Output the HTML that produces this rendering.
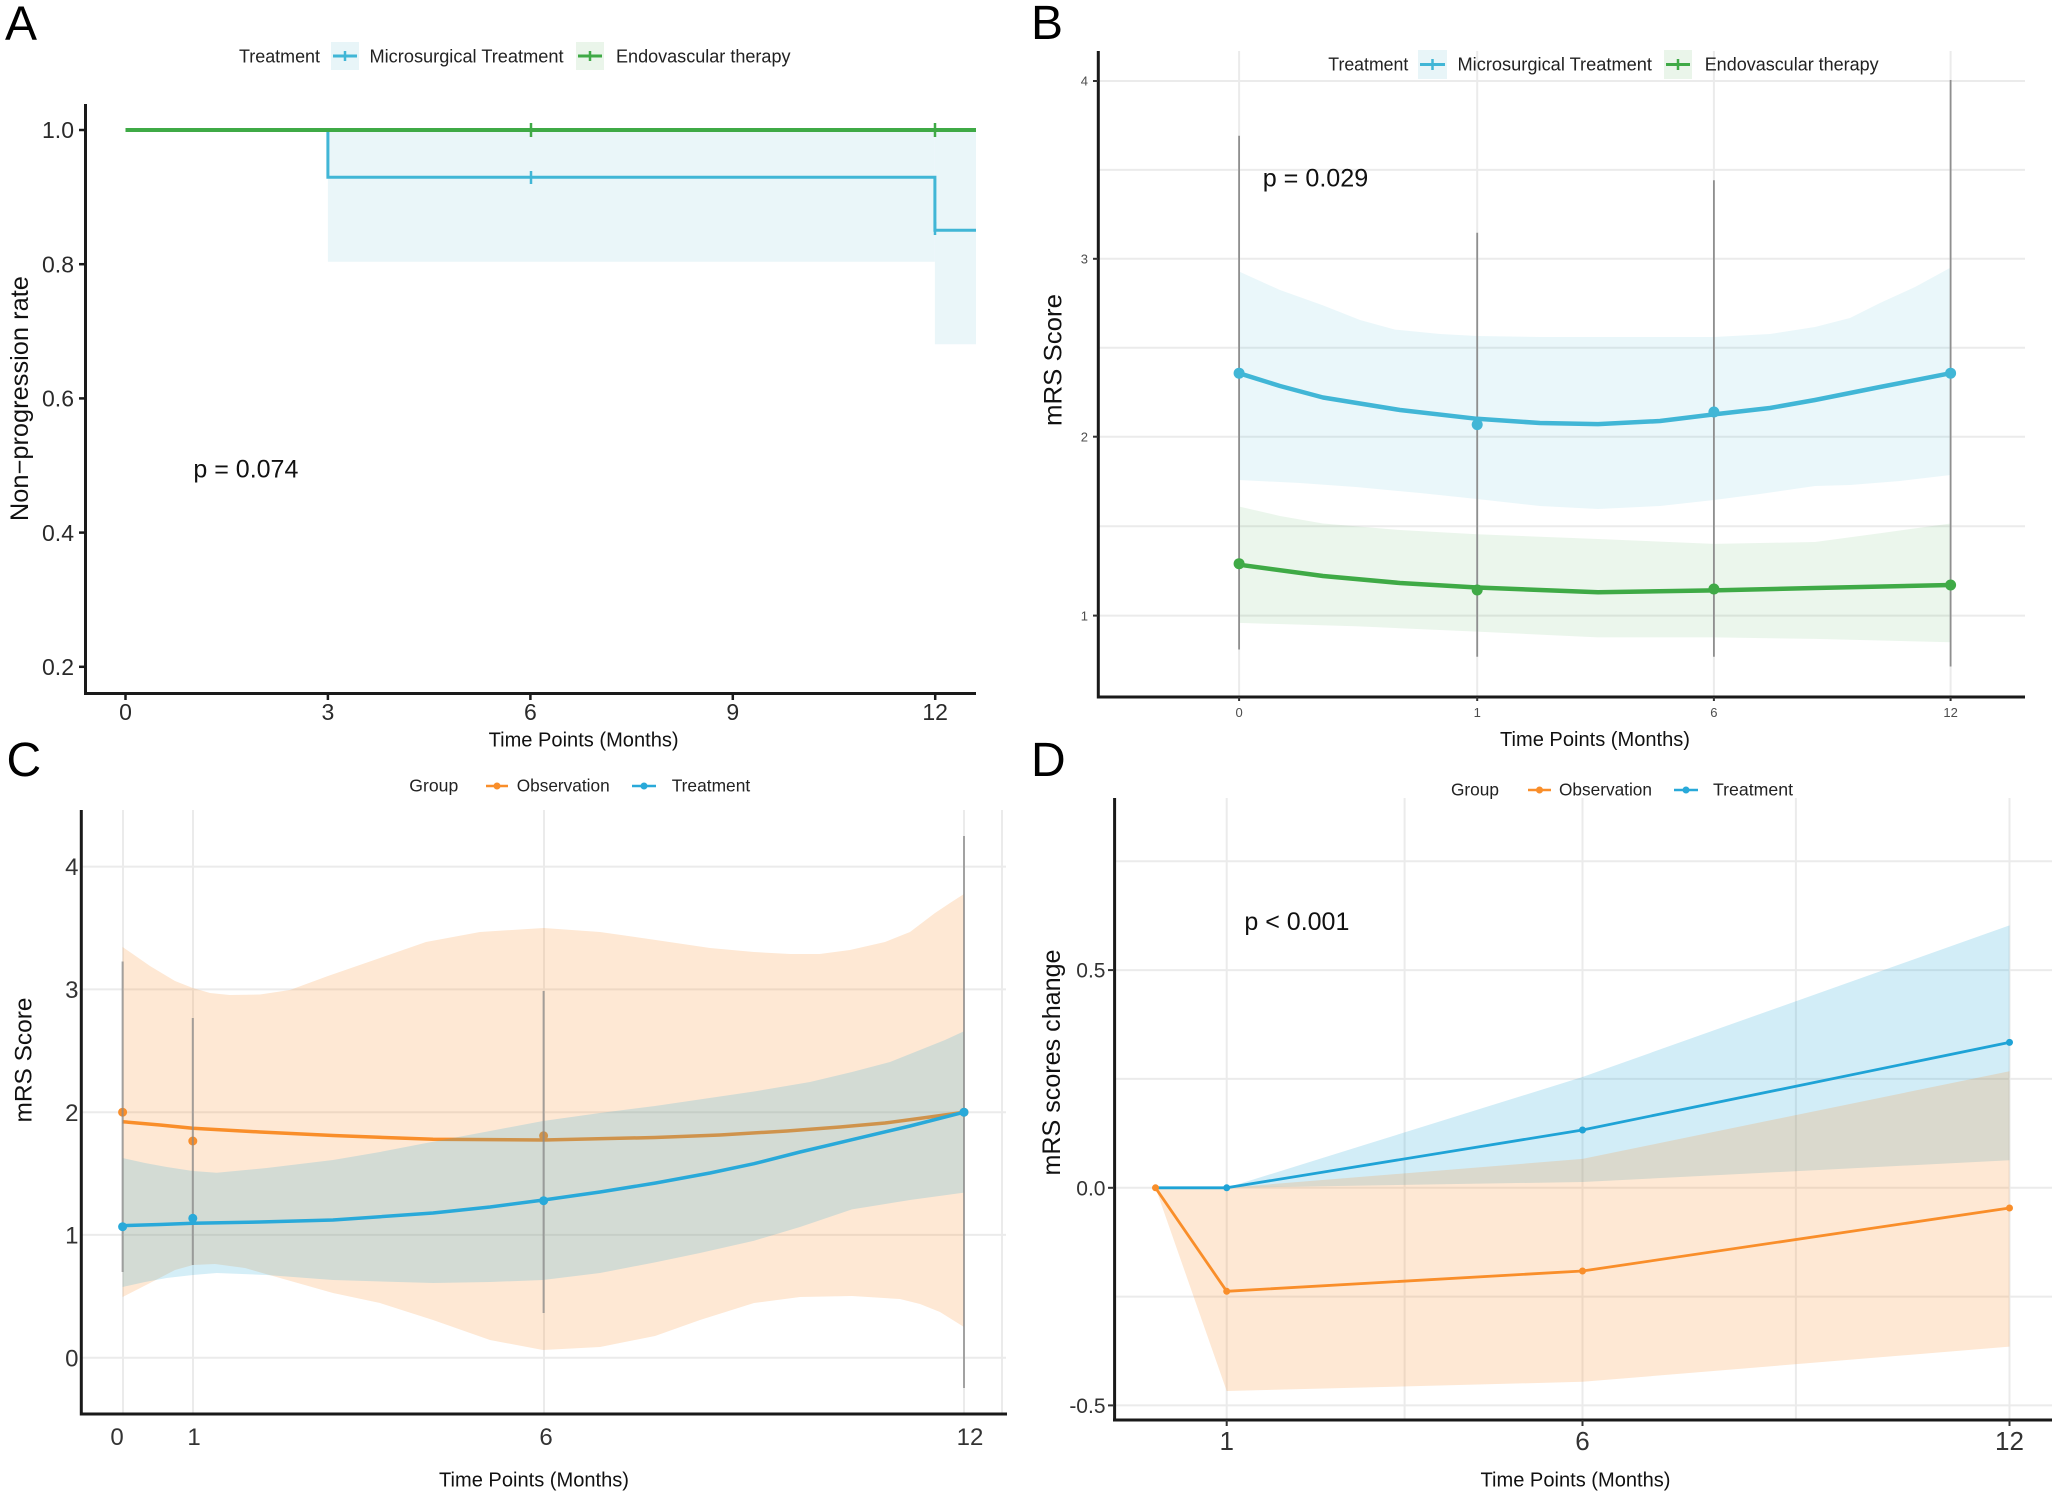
<!DOCTYPE html>
<html><head><meta charset="utf-8"><style>
html,body{margin:0;padding:0;background:#fff;}
svg{display:block;}
text{font-family:"Liberation Sans",Arial,sans-serif;}
</style></head><body>
<svg width="2056" height="1495" viewBox="0 0 2056 1495" xmlns="http://www.w3.org/2000/svg">
<rect width="2056" height="1495" fill="#fff"/>

<!-- ================= PANEL A ================= -->
<text x="5" y="39.7" font-size="48" fill="#000">A</text>
<!-- legend -->
<text x="239" y="62.7" font-size="18" fill="#222" textLength="81" lengthAdjust="spacingAndGlyphs">Treatment</text>
<rect x="331" y="42" width="28" height="28" fill="#e8f5f8"/>
<line x1="333" y1="56" x2="357" y2="56" stroke="#41b6d6" stroke-width="3"/>
<line x1="345" y1="51" x2="345" y2="61" stroke="#41b6d6" stroke-width="2.5"/>
<text x="369.5" y="62.7" font-size="18" fill="#222" textLength="194" lengthAdjust="spacingAndGlyphs">Microsurgical Treatment</text>
<rect x="576" y="42" width="28" height="28" fill="#eaf5ea"/>
<line x1="578" y1="56" x2="602" y2="56" stroke="#3faa46" stroke-width="3"/>
<line x1="590" y1="51" x2="590" y2="61" stroke="#3faa46" stroke-width="2.5"/>
<text x="616" y="62.7" font-size="18" fill="#222" textLength="174.5" lengthAdjust="spacingAndGlyphs">Endovascular therapy</text>
<!-- ribbon -->
<polygon points="327.9,130 934.9,130 934.9,261.7 327.9,261.7" fill="#eaf6f9"/>
<polygon points="934.9,130 976,130 976,344.2 934.9,344.2" fill="#eaf6f9"/>
<!-- blue step -->
<polyline points="125.5,130 327.9,130 327.9,177.3 934.9,177.3 934.9,230.2 976,230.2" fill="none" stroke="#41b6d6" stroke-width="3"/>
<line x1="531" y1="171" x2="531" y2="184" stroke="#41b6d6" stroke-width="2.5"/>
<line x1="935" y1="222" x2="935" y2="235" stroke="#41b6d6" stroke-width="2.5"/>
<!-- green -->
<line x1="125.5" y1="130" x2="976" y2="130" stroke="#3faa46" stroke-width="4"/>
<line x1="531" y1="123" x2="531" y2="137" stroke="#3faa46" stroke-width="2.5"/>
<line x1="935" y1="123" x2="935" y2="137" stroke="#3faa46" stroke-width="2.5"/>
<!-- axes -->
<line x1="85.5" y1="104" x2="85.5" y2="694.5" stroke="#1a1a1a" stroke-width="3"/>
<line x1="84" y1="693.5" x2="976" y2="693.5" stroke="#1a1a1a" stroke-width="3"/>
<g stroke="#1a1a1a" stroke-width="2.5">
<line x1="79" y1="130" x2="85" y2="130"/><line x1="79" y1="264.2" x2="85" y2="264.2"/><line x1="79" y1="398.4" x2="85" y2="398.4"/><line x1="79" y1="532.6" x2="85" y2="532.6"/><line x1="79" y1="666.8" x2="85" y2="666.8"/>
<line x1="125.5" y1="694" x2="125.5" y2="700"/><line x1="327.9" y1="694" x2="327.9" y2="700"/><line x1="530.4" y1="694" x2="530.4" y2="700"/><line x1="732.8" y1="694" x2="732.8" y2="700"/><line x1="935.2" y1="694" x2="935.2" y2="700"/>
</g>
<g font-size="23" fill="#2a2a2a" text-anchor="end">
<text x="74" y="138.2">1.0</text><text x="74" y="272.4">0.8</text><text x="74" y="406.6">0.6</text><text x="74" y="540.8">0.4</text><text x="74" y="675">0.2</text>
</g>
<g font-size="23" fill="#2a2a2a" text-anchor="middle">
<text x="125.5" y="720">0</text><text x="327.9" y="720">3</text><text x="530.4" y="720">6</text><text x="732.8" y="720">9</text><text x="935.2" y="720">12</text>
</g>
<text x="583.6" y="746.6" font-size="20" fill="#111" text-anchor="middle" textLength="190" lengthAdjust="spacingAndGlyphs">Time Points (Months)</text>
<text transform="translate(28,398.6) rotate(-90)" font-size="25" fill="#111" text-anchor="middle" textLength="245" lengthAdjust="spacingAndGlyphs">Non−progression rate</text>
<text x="193.4" y="477.5" font-size="25" fill="#111" textLength="105" lengthAdjust="spacingAndGlyphs">p = 0.074</text>

<!-- ================= PANEL B ================= -->
<text x="1031" y="38.8" font-size="48" fill="#000">B</text>
<!-- grid -->
<g stroke="#ebebeb" stroke-width="2">
<line x1="1098" y1="81" x2="2025" y2="81"/><line x1="1098" y1="169.9" x2="2025" y2="169.9"/><line x1="1098" y1="258.8" x2="2025" y2="258.8"/><line x1="1098" y1="347.8" x2="2025" y2="347.8"/><line x1="1098" y1="436.7" x2="2025" y2="436.7"/><line x1="1098" y1="526.2" x2="2025" y2="526.2"/><line x1="1098" y1="615.6" x2="2025" y2="615.6"/>
<line x1="1239.1" y1="51" x2="1239.1" y2="697"/><line x1="1477.2" y1="51" x2="1477.2" y2="697"/><line x1="1713.9" y1="51" x2="1713.9" y2="697"/><line x1="1950.6" y1="51" x2="1950.6" y2="697"/>
</g>
<!-- legend -->
<text x="1328.3" y="70.4" font-size="18" fill="#222" textLength="80" lengthAdjust="spacingAndGlyphs">Treatment</text>
<rect x="1418" y="50" width="29" height="29" fill="#e8f5f8"/>
<line x1="1420" y1="64.5" x2="1445" y2="64.5" stroke="#41b6d6" stroke-width="3"/>
<line x1="1432.5" y1="59" x2="1432.5" y2="70" stroke="#41b6d6" stroke-width="2.5"/>
<text x="1457.5" y="70.4" font-size="18" fill="#222" textLength="194.5" lengthAdjust="spacingAndGlyphs">Microsurgical Treatment</text>
<rect x="1664" y="50" width="28" height="29" fill="#eaf5ea"/>
<line x1="1666" y1="64.5" x2="1690" y2="64.5" stroke="#3faa46" stroke-width="3"/>
<line x1="1678" y1="59" x2="1678" y2="70" stroke="#3faa46" stroke-width="2.5"/>
<text x="1704.7" y="70.4" font-size="18" fill="#222" textLength="174" lengthAdjust="spacingAndGlyphs">Endovascular therapy</text>
<!-- ribbons -->
<polygon fill="#41b6d6" fill-opacity="0.11" points="1239,271.5 1280,290 1323,305.4 1360,320 1395,329.6 1440,334 1477,336 1540,337 1598,337 1660,337 1714,337 1770,334 1815,327 1850,318 1880,303 1915,287 1950.6,267.6 1950.6,475 1900,481 1850,485 1815,486 1760,494 1714,500 1660,506 1598,509 1540,506 1477,499 1420,493 1356,487 1300,483 1239,480"/>
<polygon fill="#3faa46" fill-opacity="0.1" points="1239,506.5 1280,516 1323,523.5 1400,530 1477,534.2 1598,539 1714,543.9 1815,542 1880,533.2 1950.6,523.5 1950.6,642.3 1815,638.9 1714,637.4 1598,637.4 1477,631.6 1356,626.3 1239,622.9"/>
<!-- error bars -->
<g stroke="#8f8f8f" stroke-width="1.8">
<line x1="1239.1" y1="135.7" x2="1239.1" y2="649.5"/><line x1="1477.2" y1="232.7" x2="1477.2" y2="656.8"/><line x1="1713.9" y1="180.3" x2="1713.9" y2="656.8"/><line x1="1950.6" y1="80" x2="1950.6" y2="666.5"/>
</g>
<!-- lines -->
<polyline fill="none" stroke="#41b6d6" stroke-width="4.5" stroke-linejoin="round" points="1239,373.2 1280,386 1323,397.5 1400,410 1477,418.8 1540,423 1598,424.1 1660,421 1714,414.4 1770,408 1815,400 1880,387 1950.6,373.2"/>
<polyline fill="none" stroke="#3faa46" stroke-width="4.5" stroke-linejoin="round" points="1239,564.7 1323,576 1400,583 1477,587.5 1598,592.3 1714,590.4 1815,588 1950.6,585"/>
<g fill="#41b6d6"><circle cx="1239.1" cy="373.2" r="5.5"/><circle cx="1477.2" cy="424.6" r="5.5"/><circle cx="1713.9" cy="412" r="5.5"/><circle cx="1950.6" cy="373.2" r="5.5"/></g>
<g fill="#3faa46"><circle cx="1239.1" cy="563.7" r="5.5"/><circle cx="1477.2" cy="590" r="5.5"/><circle cx="1713.9" cy="589" r="5.5"/><circle cx="1950.6" cy="585" r="5.5"/></g>
<!-- axes -->
<line x1="1098.3" y1="51" x2="1098.3" y2="698.5" stroke="#1a1a1a" stroke-width="3"/>
<line x1="1097" y1="697" x2="2025" y2="697" stroke="#1a1a1a" stroke-width="3"/>
<g stroke="#333" stroke-width="2">
<line x1="1093" y1="81" x2="1098" y2="81"/><line x1="1093" y1="258.8" x2="1098" y2="258.8"/><line x1="1093" y1="436.7" x2="1098" y2="436.7"/><line x1="1093" y1="615.6" x2="1098" y2="615.6"/>
<line x1="1239.1" y1="697" x2="1239.1" y2="701"/><line x1="1477.2" y1="697" x2="1477.2" y2="701"/><line x1="1713.9" y1="697" x2="1713.9" y2="701"/><line x1="1950.6" y1="697" x2="1950.6" y2="701"/>
</g>
<g font-size="13" fill="#4d4d4d" text-anchor="end">
<text x="1088" y="85.7">4</text><text x="1088" y="263.5">3</text><text x="1088" y="441.4">2</text><text x="1088" y="620.3">1</text>
</g>
<g font-size="13" fill="#4d4d4d" text-anchor="middle">
<text x="1239.1" y="717">0</text><text x="1477.2" y="717">1</text><text x="1713.9" y="717">6</text><text x="1950.6" y="717">12</text>
</g>
<text x="1595" y="746" font-size="20" fill="#111" text-anchor="middle" textLength="190" lengthAdjust="spacingAndGlyphs">Time Points (Months)</text>
<text transform="translate(1061.7,360) rotate(-90)" font-size="25" fill="#111" text-anchor="middle" textLength="132" lengthAdjust="spacingAndGlyphs">mRS Score</text>
<text x="1262.7" y="186.7" font-size="25" fill="#111" textLength="105.6" lengthAdjust="spacingAndGlyphs">p = 0.029</text>

<!-- ================= PANEL C ================= -->
<text x="6.5" y="776" font-size="48" fill="#000">C</text>
<g stroke="#ebebeb" stroke-width="2">
<line x1="81" y1="866.6" x2="1006" y2="866.6"/><line x1="81" y1="989.4" x2="1006" y2="989.4"/><line x1="81" y1="1112.2" x2="1006" y2="1112.2"/><line x1="81" y1="1234.9" x2="1006" y2="1234.9"/><line x1="81" y1="1357.7" x2="1006" y2="1357.7"/>
<line x1="123" y1="810" x2="123" y2="1414"/><line x1="193" y1="810" x2="193" y2="1414"/><line x1="544" y1="810" x2="544" y2="1414"/><line x1="964" y1="810" x2="964" y2="1414"/><line x1="1002" y1="810" x2="1002" y2="1414"/>
</g>
<!-- legend -->
<text x="409.3" y="791.4" font-size="17.5" fill="#222" textLength="49" lengthAdjust="spacingAndGlyphs">Group</text>
<line x1="486" y1="786" x2="508" y2="786" stroke="#f98e2a" stroke-width="2.5"/><circle cx="497" cy="786" r="3.5" fill="#f98e2a"/>
<text x="516.7" y="791.4" font-size="17.5" fill="#222" textLength="93" lengthAdjust="spacingAndGlyphs">Observation</text>
<line x1="632" y1="786" x2="656" y2="786" stroke="#29a9d9" stroke-width="2.5"/><circle cx="644" cy="786" r="3.5" fill="#29a9d9"/>
<text x="671.7" y="791.4" font-size="17.5" fill="#222" textLength="78.5" lengthAdjust="spacingAndGlyphs">Treatment</text>
<!-- orange ribbon -->
<polygon fill="#f98e2a" fill-opacity="0.2" points="122.6,947 150,966 175,981 192.8,988 210,993 229.5,995 260,994.5 290,990 328,976 380,958 426,942 480,932 543.6,928 600,932 655.7,940 710,948 754,952 790,954 819.7,954 850,950 885,942 910,932 935,913 950,903 964,894 964,1327 940,1312 920,1304 900,1299 852,1296 800,1297 754,1303 700,1320 655,1336 600,1347 543,1350 490,1340 433,1320 380,1303 333,1293 280,1278 245,1268 215,1264 193,1265 175,1270 150,1283 122.6,1297"/>
<!-- orange line -->
<polyline fill="none" stroke="#f98e2a" stroke-width="3.5" stroke-linejoin="round" points="122.6,1121.7 160,1125 192.8,1128.3 260,1132 333,1135.5 433,1139.3 543.6,1140 655,1137.5 720,1135 787,1131 840,1127 885,1123 930,1117 964,1112.2"/>
<g fill="#f98e2a"><circle cx="122.6" cy="1112.2" r="4.5"/><circle cx="192.8" cy="1141" r="4.5"/><circle cx="543.6" cy="1135.8" r="4.5"/><circle cx="964" cy="1112.2" r="4.5"/></g>
<!-- blue ribbon -->
<polygon fill="#29a9d9" fill-opacity="0.2" points="122.6,1158 145,1163 166.7,1167 192.8,1171 216.7,1172.7 266.7,1168 333,1160 380,1152 433,1141.7 490,1131 543,1121 600,1113 655,1106 754,1091.5 810,1082 852,1072 890,1062 920,1050 945,1040 964,1031.3 964,1192.6 910,1200 852,1209.4 800,1227 754,1240.7 700,1253 655,1262.4 600,1273 543,1280 490,1282 433,1283 333,1280 266.7,1275 216.7,1273 192.8,1275 166.7,1278 145,1282 122.6,1287"/>
<!-- error bars -->
<g stroke="#8a8a8a" stroke-width="2" stroke-opacity="0.75">
<line x1="122.6" y1="961.5" x2="122.6" y2="1272"/><line x1="192.8" y1="1018" x2="192.8" y2="1265"/><line x1="543.6" y1="991" x2="543.6" y2="1313"/><line x1="964" y1="836" x2="964" y2="1388"/>
</g>
<polyline fill="none" stroke="#29a9d9" stroke-width="3.5" stroke-linejoin="round" points="122.6,1225.7 160,1224.5 192.8,1223.3 260,1222 333,1220 433,1213 490,1207 543.6,1200 600,1192 655.7,1183 710,1173 754,1163.7 800,1152 852.5,1139.6 910,1126 964,1112.2"/>
<g fill="#29a9d9"><circle cx="122.6" cy="1226.7" r="4.5"/><circle cx="192.8" cy="1218.3" r="4.5"/><circle cx="543.6" cy="1200.7" r="4.5"/><circle cx="964" cy="1112.2" r="4.5"/></g>
<!-- axes -->
<line x1="81.3" y1="810" x2="81.3" y2="1415.5" stroke="#1a1a1a" stroke-width="3"/>
<line x1="80" y1="1414" x2="1007" y2="1414" stroke="#1a1a1a" stroke-width="3"/>
<g font-size="24" fill="#333" text-anchor="end">
<text x="78.5" y="875.2">4</text><text x="78.5" y="998">3</text><text x="78.5" y="1120.8">2</text><text x="78.5" y="1243.5">1</text><text x="78.5" y="1366.3">0</text>
</g>
<g font-size="24" fill="#333" text-anchor="middle">
<text x="117" y="1445">0</text><text x="194" y="1445">1</text><text x="546" y="1445">6</text><text x="970" y="1445">12</text>
</g>
<text x="534" y="1486.4" font-size="20" fill="#111" text-anchor="middle" textLength="190" lengthAdjust="spacingAndGlyphs">Time Points (Months)</text>
<text transform="translate(31.5,1060) rotate(-90)" font-size="24.5" fill="#111" text-anchor="middle" textLength="125" lengthAdjust="spacingAndGlyphs">mRS Score</text>

<!-- ================= PANEL D ================= -->
<text x="1031" y="776" font-size="48" fill="#000">D</text>
<g stroke="#ebebeb" stroke-width="2">
<line x1="1114.6" y1="861.3" x2="2052" y2="861.3"/><line x1="1114.6" y1="970.1" x2="2052" y2="970.1"/><line x1="1114.6" y1="1078.9" x2="2052" y2="1078.9"/><line x1="1114.6" y1="1187.8" x2="2052" y2="1187.8"/><line x1="1114.6" y1="1296.6" x2="2052" y2="1296.6"/><line x1="1114.6" y1="1405.4" x2="2052" y2="1405.4"/>
<line x1="1226.7" y1="798" x2="1226.7" y2="1420"/><line x1="1404.6" y1="798" x2="1404.6" y2="1420"/><line x1="1582.5" y1="798" x2="1582.5" y2="1420"/><line x1="1795.9" y1="798" x2="1795.9" y2="1420"/><line x1="2009.5" y1="798" x2="2009.5" y2="1420"/>
</g>
<!-- legend -->
<text x="1451" y="795.4" font-size="17.5" fill="#222" textLength="48" lengthAdjust="spacingAndGlyphs">Group</text>
<line x1="1528" y1="790" x2="1551" y2="790" stroke="#f98e2a" stroke-width="2.5"/><circle cx="1539.5" cy="790" r="3.5" fill="#f98e2a"/>
<text x="1559" y="795.4" font-size="17.5" fill="#222" textLength="93" lengthAdjust="spacingAndGlyphs">Observation</text>
<line x1="1674" y1="790" x2="1698" y2="790" stroke="#29a9d9" stroke-width="2.5"/><circle cx="1686" cy="790" r="3.5" fill="#29a9d9"/>
<text x="1713" y="795.4" font-size="17.5" fill="#222" textLength="80" lengthAdjust="spacingAndGlyphs">Treatment</text>
<!-- ribbons -->
<polygon fill="#1fa3d6" fill-opacity="0.2" points="1226.7,1187.8 1582.5,1077 2009.5,925.4 2009.5,1160.3 1582.5,1182 1226.7,1187.8"/>
<polygon fill="#f98e2a" fill-opacity="0.2" points="1155.5,1187.8 1226.7,1187.8 1582.5,1158.9 2009.5,1071.2 2009.5,1346.6 1582.5,1381.8 1226.7,1391"/>
<!-- lines -->
<polyline fill="none" stroke="#1fa3d6" stroke-width="2.8" stroke-linejoin="round" points="1155.5,1187.8 1226.7,1187.8 1582.5,1130 2009.5,1042.4"/>
<polyline fill="none" stroke="#f98e2a" stroke-width="2.8" stroke-linejoin="round" points="1155.5,1187.8 1226.7,1291.3 1582.5,1271 2009.5,1208"/>
<g fill="#1fa3d6"><circle cx="1226.7" cy="1187.8" r="3.5"/><circle cx="1582.5" cy="1130" r="3.5"/><circle cx="2009.5" cy="1042.4" r="3.5"/></g>
<g fill="#f98e2a"><circle cx="1155.5" cy="1187.8" r="3.5"/><circle cx="1226.7" cy="1291.3" r="3.5"/><circle cx="1582.5" cy="1271" r="3.5"/><circle cx="2009.5" cy="1208" r="3.5"/></g>
<!-- axes -->
<line x1="1114.6" y1="798" x2="1114.6" y2="1421.5" stroke="#1a1a1a" stroke-width="3"/>
<line x1="1113" y1="1420" x2="2052" y2="1420" stroke="#1a1a1a" stroke-width="3"/>
<g stroke="#333" stroke-width="2">
<line x1="1108" y1="970.1" x2="1114" y2="970.1"/><line x1="1108" y1="1187.8" x2="1114" y2="1187.8"/><line x1="1108" y1="1405.4" x2="1114" y2="1405.4"/>
<line x1="1226.7" y1="1420" x2="1226.7" y2="1426"/><line x1="1582.5" y1="1420" x2="1582.5" y2="1426"/><line x1="2009.5" y1="1420" x2="2009.5" y2="1426"/>
</g>
<g font-size="21" fill="#333" text-anchor="end">
<text x="1105.5" y="977.6">0.5</text><text x="1105.5" y="1195.3">0.0</text><text x="1105.5" y="1412.9">-0.5</text>
</g>
<g font-size="26" fill="#333" text-anchor="middle">
<text x="1226.7" y="1450">1</text><text x="1582.5" y="1450">6</text><text x="2009.5" y="1450">12</text>
</g>
<text x="1575.5" y="1486.4" font-size="20" fill="#111" text-anchor="middle" textLength="190" lengthAdjust="spacingAndGlyphs">Time Points (Months)</text>
<text transform="translate(1060,1062.5) rotate(-90)" font-size="25" fill="#111" text-anchor="middle" textLength="226" lengthAdjust="spacingAndGlyphs">mRS scores change</text>
<text x="1244.4" y="930.2" font-size="25" fill="#111" textLength="105" lengthAdjust="spacingAndGlyphs">p &lt; 0.001</text>
</svg>
</body></html>
